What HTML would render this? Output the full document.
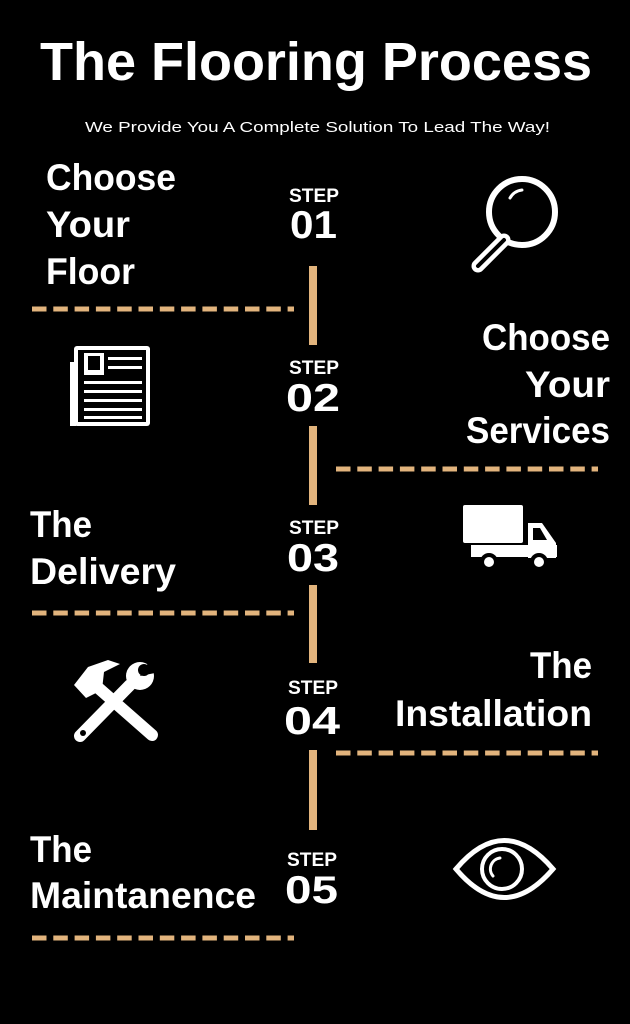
<!DOCTYPE html>
<html><head><meta charset="utf-8"><style>html,body{margin:0;padding:0;background:#000;}svg{display:block}</style></head>
<body>
<svg width="630" height="1024" viewBox="0 0 630 1024" xmlns="http://www.w3.org/2000/svg">
<rect width="630" height="1024" fill="#000"/>
<g font-family="Liberation Sans, sans-serif" font-weight="bold" fill="#fff">
<text x="40" y="80" font-size="54" textLength="552" lengthAdjust="spacingAndGlyphs">The Flooring Process</text>
<text x="85" y="132" font-size="15" font-weight="normal" textLength="465" lengthAdjust="spacingAndGlyphs">We Provide You A Complete Solution To Lead The Way!</text>

<g font-size="37">
<text x="46" y="190" textLength="130" lengthAdjust="spacingAndGlyphs">Choose</text>
<text x="46" y="237" textLength="84" lengthAdjust="spacingAndGlyphs">Your</text>
<text x="46" y="284" textLength="89" lengthAdjust="spacingAndGlyphs">Floor</text>
<text x="482" y="350" textLength="128" lengthAdjust="spacingAndGlyphs">Choose</text>
<text x="525" y="397" textLength="85" lengthAdjust="spacingAndGlyphs">Your</text>
<text x="466" y="443" textLength="144" lengthAdjust="spacingAndGlyphs">Services</text>
<text x="30" y="537" textLength="62" lengthAdjust="spacingAndGlyphs">The</text>
<text x="30" y="584" textLength="146" lengthAdjust="spacingAndGlyphs">Delivery</text>
<text x="530" y="678" textLength="62" lengthAdjust="spacingAndGlyphs">The</text>
<text x="395" y="726" textLength="197" lengthAdjust="spacingAndGlyphs">Installation</text>
<text x="30" y="862" textLength="62" lengthAdjust="spacingAndGlyphs">The</text>
<text x="30" y="908" textLength="226" lengthAdjust="spacingAndGlyphs">Maintanence</text>
</g>

<g>
<text x="289" y="202" font-size="19" textLength="50" lengthAdjust="spacingAndGlyphs">STEP</text>
<text x="290" y="238" font-size="39" textLength="47" lengthAdjust="spacingAndGlyphs">01</text>
<text x="289" y="374" font-size="19" textLength="50" lengthAdjust="spacingAndGlyphs">STEP</text>
<text x="286" y="411" font-size="39" textLength="54" lengthAdjust="spacingAndGlyphs">02</text>
<text x="289" y="534" font-size="19" textLength="50" lengthAdjust="spacingAndGlyphs">STEP</text>
<text x="287" y="571" font-size="39" textLength="52" lengthAdjust="spacingAndGlyphs">03</text>
<text x="288" y="694" font-size="19" textLength="50" lengthAdjust="spacingAndGlyphs">STEP</text>
<text x="284" y="734" font-size="39" textLength="56" lengthAdjust="spacingAndGlyphs">04</text>
<text x="287" y="866" font-size="19" textLength="50" lengthAdjust="spacingAndGlyphs">STEP</text>
<text x="285" y="903" font-size="39" textLength="53" lengthAdjust="spacingAndGlyphs">05</text>
</g>
</g>

<g fill="#e2b47d">
<rect x="309" y="266" width="8" height="79"/>
<rect x="309" y="426" width="8" height="79"/>
<rect x="309" y="585" width="8" height="78"/>
<rect x="309" y="750" width="8" height="80"/>
</g>
<g stroke="#e2b47d" stroke-width="5" stroke-dasharray="14.5 6.8">
<line x1="32" y1="309" x2="294" y2="309"/>
<line x1="336" y1="469" x2="598" y2="469"/>
<line x1="32" y1="613" x2="294" y2="613"/>
<line x1="336" y1="753" x2="598" y2="753"/>
<line x1="32" y1="938" x2="294" y2="938"/>
</g>

<!-- magnifier -->
<g stroke="#fff" fill="none" stroke-width="6">
<circle cx="522" cy="212" r="33"/>
<path d="M504 240 L478 266" stroke-width="13" stroke-linecap="round"/>
<path d="M504 240 L478 266" stroke="#000" stroke-width="4" stroke-linecap="round"/>
<path d="M510 198 A16 16 0 0 1 522 190" stroke-width="3" stroke-linecap="round"/>
</g>

<!-- newspaper -->
<g fill="#fff">
<rect x="74" y="346" width="76" height="80" rx="3"/>
<rect x="70" y="362" width="6" height="64"/>
<rect x="78" y="350" width="68" height="72" fill="#000"/>
<rect x="84" y="353" width="20" height="22"/>
<rect x="88" y="356" width="12" height="14" fill="#000"/>
<rect x="108" y="357" width="34" height="3"/>
<rect x="108" y="366" width="34" height="3"/>
<rect x="84" y="381" width="58" height="3"/>
<rect x="84" y="390" width="58" height="3"/>
<rect x="84" y="399" width="58" height="3"/>
<rect x="84" y="408" width="58" height="3"/>
<rect x="84" y="416" width="58" height="3"/>
</g>

<!-- truck -->
<g fill="#fff">
<rect x="463" y="505" width="60" height="38" rx="2"/>
<path d="M528 523 L542 523 L556 543 L556 558 L528 558 Z"/>
<path d="M533 528 L540 528 L547 540 L533 540 Z" fill="#000"/>
<rect x="471" y="545" width="86" height="12"/>
<circle cx="489" cy="562" r="9" fill="#000"/>
<circle cx="489" cy="562" r="5"/>
<circle cx="539" cy="562" r="9" fill="#000"/>
<circle cx="539" cy="562" r="5"/>
</g>

<!-- tools -->
<g fill="#fff" stroke="#fff" stroke-linecap="round">
<line x1="95" y1="685" x2="152" y2="735" stroke-width="12"/>
<path d="M74 685 L88 667 L108 660 L120 664 L104 672 L102 690 L86 698 Z" stroke="none"/>
<line x1="80" y1="736" x2="130" y2="685" stroke-width="12"/>
<circle cx="140" cy="676" r="14" stroke="none"/>
<path d="M140 676 L150 660 L160 672 Z" fill="#000" stroke="none"/>
<circle cx="144" cy="670" r="6" fill="#000" stroke="none"/>
<circle cx="83" cy="733" r="3" fill="#000" stroke="none"/>
</g>

<!-- eye -->
<g stroke="#fff" fill="none" stroke-width="5">
<path d="M456 869 Q504 812 553 869 Q504 926 456 869 Z"/>
<circle cx="502" cy="869" r="20" stroke-width="4"/>
<path d="M493 876 A11 11 0 0 1 500 858" stroke-width="3" stroke-linecap="round"/>
</g>
</svg>
</body></html>
